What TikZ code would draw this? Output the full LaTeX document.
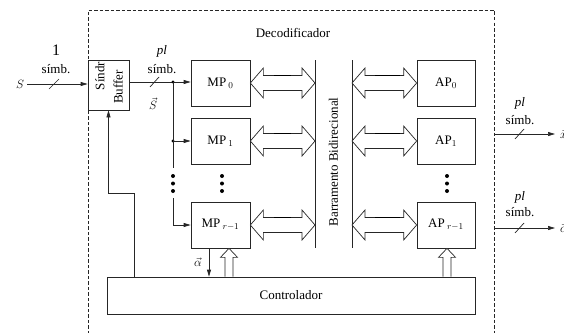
\documentclass[tikz,border=0pt]{standalone}
\usepackage{fontspec}
\setmainfont{Liberation Serif}
\usetikzlibrary{arrows.meta,calc}
\newcommand{\dblarr}[4]{%
  \draw[hol] let \p1=(#1), \p2=(#2) in (\x1,\y1) -- (\x1+13pt,\y1+15pt) -- (\x1+13pt,\y1+7.5pt) -- (\x2-13pt,\y1+7.5pt) -- (\x2-13pt,\y1+15pt) -- (\x2,\y1) -- (\x2-13pt,\y1-15pt) -- (\x2-13pt,\y1-7.5pt) -- (\x1+13pt,\y1-7.5pt) -- (\x1+13pt,\y1-15pt) -- cycle;
  \draw[line width=1.6pt] let \p1=(#1) in (\x1+#3pt,\y1+7.5pt) -- (\x1+#3pt+#4pt,\y1+7.5pt);}
\newcommand{\uparr}[2]{%
  \draw[hol] let \p1=(#1), \p2=(#2) in (\x1-4pt,\y1) -- (\x1-4pt,\y2-9pt) -- (\x1-8.5pt,\y2-9pt) -- (\x2,\y2) -- (\x1+8.5pt,\y2-9pt) -- (\x1+4pt,\y2-9pt) -- (\x1+4pt,\y1);}
\begin{document}
\begin{tikzpicture}[x=1pt,y=-1pt,
  lw/.style={line width=0.7pt, draw=black!85},
  box/.style={lw, rectangle, inner sep=0pt},
  lbl/.style={font=\fontsize{13}{15}\selectfont},
  arr/.style={lw, -{Triangle[length=7pt,width=4pt]}},
  hol/.style={lw, fill=white},
  jdot/.style={circle, fill=black, inner sep=0pt, minimum size=3.2pt},
  vdot/.style={circle, fill=black, inner sep=0pt, minimum size=4pt},
]
\useasboundingbox (0,0) rectangle (564,332);
% dashed decoder frame
\draw[lw, dash pattern=on 3.5pt off 2pt] (88,345) -- (88,10) -- (494,10) -- (494,345);
\node[lbl] (dec) at (293,33) {Decodificador};

% buffer
\node[box, minimum width=41pt, minimum height=50pt] (buf) at (108.5,85) {};
\node[lbl, rotate=90] (t1) at (100,76) {Síndr};
\node[lbl, rotate=90] (t2) at (118,87) {Buffer};

% MP boxes
\node[box, lbl, minimum width=59pt, minimum height=46pt] (mp0) at (220.5,83) {MP\,$_0$};
\node[box, lbl, minimum width=59pt, minimum height=46pt] (mp1) at (220.5,141) {MP\,$_1$};
\node[box, lbl, minimum width=59pt, minimum height=46pt] (mpr) at (220.5,225) {MP\,$_{r-1}$};
% AP boxes
\node[box, lbl, minimum width=58pt, minimum height=46pt] (ap0) at (446,83) {AP$_0$};
\node[box, lbl, minimum width=58pt, minimum height=46pt] (ap1) at (446,141) {AP$_1$};
\node[box, lbl, minimum width=58pt, minimum height=46pt] (apr) at (446,225) {AP\,$_{r-1}$};
% controller
\node[box, lbl, minimum width=368pt, minimum height=37pt] (ctrl) at (291,295.5) {Controlador};

% bus
\coordinate (bl0) at (315,60); \coordinate (bl1) at (315,248);
\coordinate (br0) at (352,60); \coordinate (br1) at (352,248);
\draw[lw] (bl0) -- (bl1);
\draw[lw] (br0) -- (br1);
\node[lbl, rotate=90] (bus) at (333.5,162) {Barramento Bidirecional};

% input
\node[lbl] (s) at (20,84) {$S$};
\coordinate (in) at (27,84);
\draw[arr] (in) -- (in -| buf.west);
\draw[lw] (49,89) -- (59,79);
\node[lbl, font=\fontsize{16}{18}\selectfont] (one) at (56,50) {1};
\node[lbl] (s1) at (56,69) {símb.};

% buffer output to MPs
\coordinate (bo) at ($(buf.east)+(0,-3)$);
\draw[arr] (bo) -- (bo -| mp0.west);
\draw[lw] (150,87) -- (159,77);
\node[lbl] (pl1) at (162,51) {\textit{pl}};
\node[lbl] (s2) at (162,69) {símb.};
\node[lbl, inner sep=1pt] (sv) at (153,104) {$\vec{S}$};
\coordinate (j0) at (173,82);
\coordinate (j1) at (173,141);
\coordinate (jb) at (173,168);
\coordinate (jc) at (173,198);
\coordinate (j2) at (173,225);
\node[jdot] (d0) at (j0) {};
\node[jdot] (d1) at (j1) {};
\draw[lw] (j0) -- (jb);
\draw[arr] (j1) -- (j1 -| mp1.west);
\draw[arr] (jc) -- (j2) -- (j2 -| mpr.west);
\node[vdot] (ja) at (173,176) {};
\node[vdot] (jd) at (173,183.5) {};
\node[vdot] (je) at (173,191) {};
\node[vdot] (ma) at (222,176) {};
\node[vdot] (mb) at (222,183.5) {};
\node[vdot] (mc) at (222,191) {};
\node[vdot] (aa) at (447,176) {};
\node[vdot] (ab) at (447,183.5) {};
\node[vdot] (ac) at (447,191) {};

% double arrows
\dblarr{mp0.east}{mp0.east -| bl0}{24}{17}
\dblarr{mp1.east}{mp1.east -| bl0}{24}{17}
\dblarr{mpr.east}{mpr.east -| bl0}{24}{17}
\dblarr{ap0.west -| br0}{ap0.west}{23}{25}
\dblarr{ap1.west -| br0}{ap1.west}{23}{25}
\dblarr{apr.west -| br0}{apr.west}{23}{25}

% controller links
\coordinate (ua) at ($(mpr.south)+(8.5,0)$);
\uparr{ua |- ctrl.north}{ua}
\coordinate (ub) at ($(apr.south)+(1,0)$);
\uparr{ub |- ctrl.north}{ub}
\coordinate (al) at ($(mpr.south)+(-11.5,0)$);
\draw[arr] (al) -- (al |- ctrl.north);
\node[lbl] (alpha) at (198,262) {$\vec{\alpha}$};
\coordinate (fb) at (134,277);
\coordinate (fk) at (134,193);
\draw[arr] (fb) -- (fk) -| (buf.south);

% outputs
\coordinate (o1) at (494,134); \coordinate (o1e) at (555,134);
\draw[arr] (o1) -- (o1e);
\draw[lw] (515,139) -- (524,129);
\node[lbl] (pl2) at (520,103) {\textit{pl}};
\node[lbl] (s3) at (520,120) {símb.};
\node[lbl, anchor=west, inner sep=0pt] (x1) at (560,134) {$\vec{x}$};
\coordinate (o2) at (494,228); \coordinate (o2e) at (555,228);
\draw[arr] (o2) -- (o2e);
\draw[lw] (515,233) -- (524,223);
\node[lbl] (pl3) at (520,197) {\textit{pl}};
\node[lbl] (s4) at (520,212) {símb.};
\node[lbl, anchor=west, inner sep=0pt] (x2) at (560,228) {$\vec{c}$};
\end{tikzpicture}
\end{document}
